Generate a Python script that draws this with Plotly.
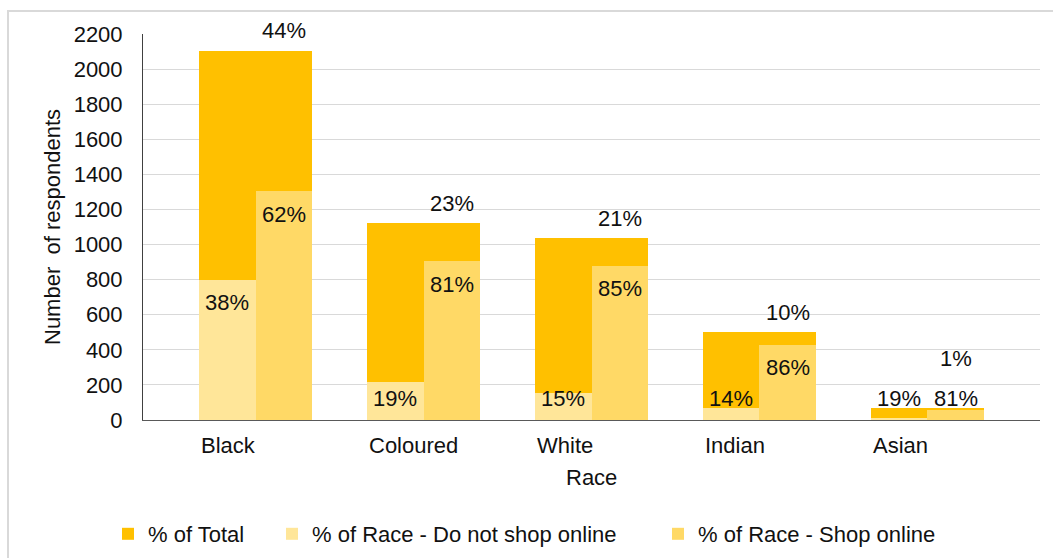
import plotly.graph_objects as go

# Respondents by race, split by online shopping behaviour
races = ["Black", "Coloured", "White", "Indian", "Asian"]
total_respondents = [2105, 1120, 1035, 500, 70]
do_not_shop_online = [800, 215, 155, 70, 13]
shop_online = [1305, 905, 880, 430, 57]

y_ticks = list(range(0, 2201, 200))

C_TOTAL = "#FFC000"
C_NOSHOP = "#FFE699"
C_SHOP = "#FFD966"
TXT = "#111111"
FONT = "Liberation Sans, Arial, sans-serif"
FS = 22

W, H = 1053, 558
M_L, M_R, M_T, M_B = 143, 13, 34, 138
plot_w = W - M_L - M_R
plot_h = H - M_T - M_B
Y_MAX = 2200
UNIT_PER_PX = Y_MAX / plot_h

BAR_W = 0.673
HALF = BAR_W / 2
x = list(range(len(races)))

fig = go.Figure()
fig.add_trace(go.Bar(
    x=x, y=total_respondents, width=BAR_W, marker_color=C_TOTAL,
    marker_line_width=0, name="% of Total", legendwidth=119,
))
fig.add_trace(go.Bar(
    x=x, y=do_not_shop_online, width=HALF, offset=-HALF, marker_color=C_NOSHOP,
    marker_line_width=0, name="% of Race - Do not shop online", legendwidth=341,
))
fig.add_trace(go.Bar(
    x=x, y=shop_online, width=HALF, offset=0, marker_color=C_SHOP,
    marker_line_width=0, name="% of Race - Shop online",
))


def to_paper(v):
    return v / Y_MAX


annotations = []
grand_total = sum(total_respondents)
inside_gap = 23 * UNIT_PER_PX      # label centre below bar top
floor_y = 22 * UNIT_PER_PX         # lowest label centre
above_gap = 20 * UNIT_PER_PX       # total label above bar top
clear_gap = 40 * UNIT_PER_PX       # spacing above the inner labels

for i, race in enumerate(races):
    t, n, s = total_respondents[i], do_not_shop_online[i], shop_online[i]
    y_n = max(n - inside_gap, floor_y)
    y_s = max(s - inside_gap, floor_y)
    annotations.append(dict(x=i - HALF / 2, y=to_paper(y_n), yref="paper",
                            text=f"{round(n / t * 100)}%",
                            showarrow=False, xanchor="center", yanchor="middle"))
    annotations.append(dict(x=i + HALF / 2, y=to_paper(y_s), yref="paper",
                            text=f"{round(s / t * 100)}%",
                            showarrow=False, xanchor="center", yanchor="middle"))
    y_t = max(t + above_gap, max(y_n, y_s) + clear_gap)
    annotations.append(dict(x=i + HALF / 2, y=to_paper(y_t), yref="paper",
                            text=f"{round(t / grand_total * 100)}%",
                            showarrow=False, xanchor="center", yanchor="middle"))
    # category label, aligned with the left edge of the bar
    annotations.append(dict(x=i - HALF, xref="x", y=-25 / plot_h, yref="paper",
                            text=race, showarrow=False, xanchor="left", yanchor="middle"))

annotations.append(dict(x=0.5, xref="paper", y=-57 / plot_h, yref="paper", text="Race",
                        showarrow=False, xanchor="center", yanchor="middle"))
annotations.append(dict(x=-91 / plot_w, xref="paper", y=0.5, yref="paper",
                        text="Number  of respondents", textangle=-90, showarrow=False,
                        xanchor="center", yanchor="middle"))

fig.update_layout(
    width=W, height=H,
    margin=dict(l=M_L, r=M_R, t=M_T, b=M_B, pad=0, autoexpand=False),
    barmode="overlay",
    bargap=0,
    plot_bgcolor="white", paper_bgcolor="white",
    font=dict(family=FONT, size=FS, color=TXT),
    annotations=annotations,
    showlegend=True,
    legend=dict(orientation="h", x=-35 / plot_w, xanchor="left",
                y=-114 / plot_h, yanchor="middle", font=dict(size=FS),
                bgcolor="rgba(0,0,0,0)", traceorder="normal"),
    shapes=[dict(type="rect", xref="paper", yref="paper",
                 x0=-135 / plot_w, x1=1.03, y0=-0.4, y1=1 + 23 / plot_h,
                 line=dict(color="#D9D9D9", width=2), layer="below")],
)

fig.update_xaxes(
    range=[-0.67, len(races) - 0.33],
    showticklabels=False, showgrid=False, zeroline=False,
    showline=True, linecolor="#595959", linewidth=1,
)
fig.update_yaxes(
    range=[0, Y_MAX], tickvals=y_ticks, ticktext=[str(v) for v in y_ticks],
    showgrid=True, gridcolor="#D9D9D9", gridwidth=1,
    zeroline=False, showline=True, linecolor="#404040", linewidth=1,
    ticks="", ticklabelstandoff=15,
)

fig.write_html("out.html")
